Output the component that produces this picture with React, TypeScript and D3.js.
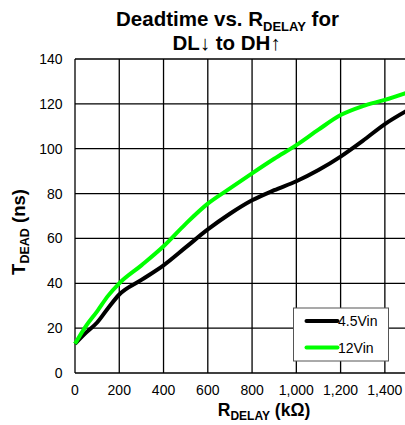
import React, { useRef, useEffect } from 'react';
import * as d3 from 'd3';

// R_DELAY (kOhm) sample points
const rDelay45 = [0, 50, 100, 150, 200, 300, 400, 500, 600, 700, 800, 900, 1000, 1100, 1200, 1300, 1400, 1500];
const tDead45 = [13, 18, 22.5, 29, 35, 41.5, 48, 56, 64, 71, 77, 81.5, 85.5, 90.5, 96.5, 103.5, 111, 117];

const rDelay12 = [0, 50, 100, 150, 200, 300, 400, 500, 600, 700, 800, 900, 1000, 1100, 1200, 1300, 1400, 1500];
const tDead12 = [13, 21, 27.5, 34.5, 40, 48, 56.5, 66.5, 75.5, 82.3, 89, 95.5, 101.6, 108.5, 115, 119, 121.8, 125];

const xTicks = [0, 200, 400, 600, 800, 1000, 1200, 1400];
const yTicks = [0, 20, 40, 60, 80, 100, 120, 140];

const seriesNames = ['4.5Vin', '12Vin'];
const seriesColors = ['#000000', '#00ff00'];

const FONT = "Arial, 'Liberation Sans', sans-serif";

const App: React.FC = () => {
  const svgRef = useRef<SVGSVGElement>(null);

  useEffect(() => {
    if (!svgRef.current) return;
    const svg = d3.select(svgRef.current);
    svg.selectAll('*').remove();

    const width = 405;
    const height = 425;
    const margin = { top: 59, left: 75, bottom: 52 };

    const x = d3.scaleLinear().domain([0, 1500]).range([margin.left, 407]);
    const y = d3.scaleLinear().domain([0, 140]).range([height - margin.bottom, margin.top]);

    // Grid
    const grid = svg.append('g');
    grid.selectAll('.vline')
      .data(xTicks)
      .enter()
      .append('line')
      .attr('x1', d => x(d))
      .attr('x2', d => x(d))
      .attr('y1', y(0))
      .attr('y2', y(140))
      .attr('stroke', '#000')
      .attr('stroke-width', 1.3);
    grid.selectAll('.hline')
      .data(yTicks)
      .enter()
      .append('line')
      .attr('x1', x(0))
      .attr('x2', width)
      .attr('y1', d => y(d))
      .attr('y2', d => y(d))
      .attr('stroke', '#000')
      .attr('stroke-width', 1.3);

    // Tick labels
    svg.selectAll('.ytick')
      .data(yTicks)
      .enter()
      .append('text')
      .attr('x', 62.5)
      .attr('y', d => y(d) + 5)
      .attr('text-anchor', 'end')
      .style('font-family', FONT)
      .style('font-size', '14px')
      .text(d => d);
    svg.selectAll('.xtick')
      .data(xTicks)
      .enter()
      .append('text')
      .attr('x', d => x(d))
      .attr('y', y(0) + 22)
      .attr('text-anchor', 'middle')
      .style('font-family', FONT)
      .style('font-size', '14px')
      .text(d => d3.format(',')(d));

    // Lines
    const line = d3.line<[number, number]>()
      .x(d => x(d[0]))
      .y(d => y(d[1]))
      .curve(d3.curveMonotoneX);

    const series: [number, number][][] = [
      rDelay45.map((r, i) => [r, tDead45[i]]),
      rDelay12.map((r, i) => [r, tDead12[i]]),
    ];
    series.forEach((s, i) => {
      svg.append('path')
        .datum(s)
        .attr('d', line)
        .attr('fill', 'none')
        .attr('stroke', seriesColors[i])
        .attr('stroke-width', 4)
        .attr('stroke-linejoin', 'round');
    });

    // Legend
    const lg = svg.append('g').attr('transform', 'translate(293.5,308)');
    lg.append('rect')
      .attr('width', 95)
      .attr('height', 53)
      .attr('fill', '#fff')
      .attr('stroke', '#555')
      .attr('stroke-width', 1);
    seriesNames.forEach((name, i) => {
      const ly = 13 + i * 26.5;
      lg.append('line')
        .attr('x1', 13)
        .attr('x2', 44)
        .attr('y1', ly)
        .attr('y2', ly)
        .attr('stroke', seriesColors[i])
        .attr('stroke-width', 4)
        .attr('stroke-linecap', 'round');
      lg.append('text')
        .attr('x', 44.5)
        .attr('y', ly + 5)
        .style('font-family', FONT)
        .style('font-size', '14px')
        .text(name);
    });

    // Title
    const t1 = svg.append('text')
      .attr('x', 227.5)
      .attr('y', 26)
      .attr('text-anchor', 'middle')
      .style('font-family', FONT)
      .style('font-size', '20.5px')
      .style('font-weight', 'bold');
    t1.append('tspan').text('Deadtime vs. R');
    t1.append('tspan').attr('dy', 5).style('font-size', '13px').text('DELAY');
    t1.append('tspan').attr('dy', -5).text(' for');
    svg.append('text')
      .attr('x', 226.5)
      .attr('y', 50)
      .attr('text-anchor', 'middle')
      .style('font-family', FONT)
      .style('font-size', '20.5px')
      .style('font-weight', 'bold')
      .text('DL\u2193 to DH\u2191');

    // X axis title
    const xt = svg.append('text')
      .attr('x', 264)
      .attr('y', 416)
      .attr('text-anchor', 'middle')
      .style('font-family', FONT)
      .style('font-size', '17.5px')
      .style('font-weight', 'bold');
    xt.append('tspan').text('R');
    xt.append('tspan').attr('dy', 4).style('font-size', '12px').text('DELAY');
    xt.append('tspan').attr('dy', -4).text(' (k\u03a9)');

    // Y axis title
    const yt = svg.append('text')
      .attr('transform', 'translate(25,232) rotate(-90)')
      .attr('text-anchor', 'middle')
      .style('font-family', FONT)
      .style('font-size', '18.5px')
      .style('font-weight', 'bold');
    yt.append('tspan').text('T');
    yt.append('tspan').attr('dy', 4).style('font-size', '12.5px').text('DEAD');
    yt.append('tspan').attr('dy', -4).text(' (ns)');
  }, []);

  return (
    <div style={{ position: 'fixed', left: 0, top: 0, background: '#fff' }}>
      <svg ref={svgRef} width={405} height={425} style={{ display: 'block' }} />
    </div>
  );
};

export default App;
